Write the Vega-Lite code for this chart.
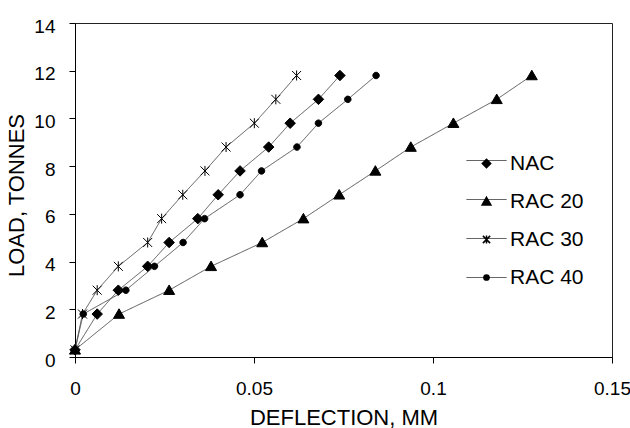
{
  "$schema": "https://vega.github.io/schema/vega-lite/v6.json",
  "width": 537,
  "height": 334,
  "autosize": "none",
  "padding": {"left": 75, "top": 23, "right": 18, "bottom": 71},
  "background": "white",
  "data": {
    "values": [
      {"series": "NAC", "deflection": 0, "load": 0.3},
      {"series": "NAC", "deflection": 0.0062, "load": 1.8},
      {"series": "NAC", "deflection": 0.0121, "load": 2.8},
      {"series": "NAC", "deflection": 0.0203, "load": 3.8},
      {"series": "NAC", "deflection": 0.0263, "load": 4.8},
      {"series": "NAC", "deflection": 0.0343, "load": 5.8},
      {"series": "NAC", "deflection": 0.040, "load": 6.8},
      {"series": "NAC", "deflection": 0.0461, "load": 7.8},
      {"series": "NAC", "deflection": 0.0541, "load": 8.8},
      {"series": "NAC", "deflection": 0.0601, "load": 9.8},
      {"series": "NAC", "deflection": 0.068, "load": 10.8},
      {"series": "NAC", "deflection": 0.074, "load": 11.8},
      {"series": "RAC 20", "deflection": 0, "load": 0.3},
      {"series": "RAC 20", "deflection": 0.0123, "load": 1.8},
      {"series": "RAC 20", "deflection": 0.0263, "load": 2.8},
      {"series": "RAC 20", "deflection": 0.038, "load": 3.8},
      {"series": "RAC 20", "deflection": 0.0523, "load": 4.8},
      {"series": "RAC 20", "deflection": 0.0638, "load": 5.8},
      {"series": "RAC 20", "deflection": 0.0738, "load": 6.8},
      {"series": "RAC 20", "deflection": 0.0839, "load": 7.8},
      {"series": "RAC 20", "deflection": 0.0938, "load": 8.8},
      {"series": "RAC 20", "deflection": 0.1057, "load": 9.8},
      {"series": "RAC 20", "deflection": 0.1178, "load": 10.8},
      {"series": "RAC 20", "deflection": 0.1276, "load": 11.8},
      {"series": "RAC 30", "deflection": 0, "load": 0.3},
      {"series": "RAC 30", "deflection": 0.0021, "load": 1.8},
      {"series": "RAC 30", "deflection": 0.0062, "load": 2.8},
      {"series": "RAC 30", "deflection": 0.0121, "load": 3.8},
      {"series": "RAC 30", "deflection": 0.0203, "load": 4.8},
      {"series": "RAC 30", "deflection": 0.0242, "load": 5.8},
      {"series": "RAC 30", "deflection": 0.0301, "load": 6.8},
      {"series": "RAC 30", "deflection": 0.0363, "load": 7.8},
      {"series": "RAC 30", "deflection": 0.0422, "load": 8.8},
      {"series": "RAC 30", "deflection": 0.0501, "load": 9.8},
      {"series": "RAC 30", "deflection": 0.0561, "load": 10.8},
      {"series": "RAC 30", "deflection": 0.0619, "load": 11.8},
      {"series": "RAC 40", "deflection": 0, "load": 0.3},
      {"series": "RAC 40", "deflection": 0.0023, "load": 1.8},
      {"series": "RAC 40", "deflection": 0.0142, "load": 2.8},
      {"series": "RAC 40", "deflection": 0.0222, "load": 3.8},
      {"series": "RAC 40", "deflection": 0.0302, "load": 4.8},
      {"series": "RAC 40", "deflection": 0.0362, "load": 5.8},
      {"series": "RAC 40", "deflection": 0.0461, "load": 6.8},
      {"series": "RAC 40", "deflection": 0.0521, "load": 7.8},
      {"series": "RAC 40", "deflection": 0.062, "load": 8.8},
      {"series": "RAC 40", "deflection": 0.068, "load": 9.8},
      {"series": "RAC 40", "deflection": 0.0762, "load": 10.8},
      {"series": "RAC 40", "deflection": 0.0841, "load": 11.8}
    ]
  },
  "encoding": {
    "x": {
      "field": "deflection",
      "type": "quantitative",
      "scale": {"domain": [0, 0.15], "nice": false, "zero": false},
      "axis": {
        "title": "DEFLECTION, MM",
        "values": [0, 0.05, 0.1, 0.15],
        "format": ".2~f",
        "tickSize": 6,
        "labelPadding": 16,
        "titleY": 67,
        "titleBaseline": "alphabetic",
        "titleFontSize": 22
      }
    },
    "y": {
      "field": "load",
      "type": "quantitative",
      "scale": {"domain": [0, 14], "nice": false},
      "axis": {
        "title": "LOAD, TONNES",
        "values": [0, 2, 4, 6, 8, 10, 12, 14],
        "tickSize": 6,
        "labelPadding": 14,
        "labelOffset": 3,
        "titleX": -52,
        "titleY": 172,
        "titleAngle": -90,
        "titleAlign": "center",
        "titleBaseline": "alphabetic",
        "titleFontSize": 22
      }
    }
  },
  "layer": [
    {
      "mark": {"type": "line", "color": "#555555", "strokeWidth": 1},
      "encoding": {
        "strokeDash": {
          "field": "series",
          "type": "nominal",
          "scale": {"range": [[1, 0], [1, 0], [1, 0], [1, 0]]},
          "legend": {
            "title": null,
            "orient": "none",
            "legendX": 391,
            "legendY": 117,
            "symbolType": "stroke",
            "symbolSize": 1600,
            "symbolStrokeWidth": 1,
            "symbolStrokeColor": "#333333",
            "labelOffset": 13,
            "labelFontSize": 21,
            "labelFont": "Liberation Sans",
            "labelOpacity": 0,
            "rowPadding": 8
          }
        },
        "order": {"field": "load", "type": "quantitative"}
      }
    },
    {
      "mark": {"type": "point", "filled": true, "color": "black", "stroke": "black", "strokeWidth": 1, "opacity": 1, "size": 100},
      "encoding": {
        "shape": {
          "field": "series",
          "type": "nominal",
          "scale": {
            "domain": ["NAC", "RAC 20", "RAC 30", "RAC 40"],
            "range": [
              "M-1.05,0L0,-1.05L1.05,0L0,1.05Z",
              "M0,-1.05L1.1,0.85L-1.1,0.85Z",
              "M-0.9,-0.9L0.9,0.9M-0.9,0.9L0.9,-0.9M0,-1L0,1",
              "M-0.65,0A0.65,0.65,0,1,0,0.65,0A0.65,0.65,0,1,0,-0.65,0Z"
            ]
          },
          "legend": {
            "title": null,
            "orient": "none",
            "legendX": 401,
            "legendY": 130,
            "symbolSize": 64,
            "labelOffset": 13,
            "labelFontSize": 21,
            "labelFont": "Liberation Sans",
            "labelColor": "black",
            "rowPadding": 16
          }
        }
      }
    }
  ],
  "config": {
    "font": "Liberation Sans",
    "view": {"stroke": "#222222", "strokeWidth": 1},
    "axis": {
      "grid": false,
      "domainColor": "black",
      "tickColor": "black",
      "labelColor": "black",
      "titleColor": "black",
      "labelFontSize": 19,
      "labelFont": "Liberation Sans",
      "titleFont": "Liberation Sans",
      "titleFontWeight": "normal",
      "labelFlush": false,
      "labelOverlap": false
    }
  }
}
